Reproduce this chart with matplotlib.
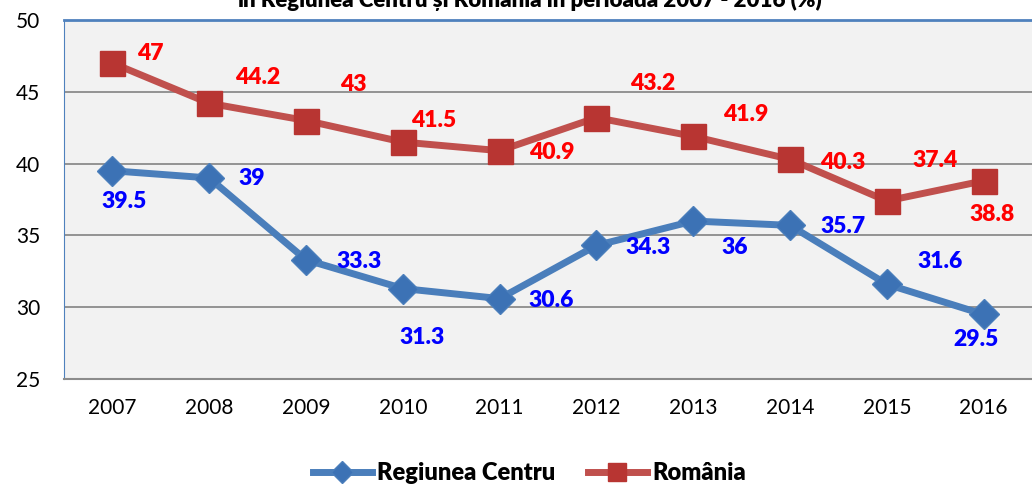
import matplotlib.pyplot as plt

# Chart data
years = ["2007", "2008", "2009", "2010", "2011", "2012", "2013", "2014", "2015", "2016"]
centru = [39.5, 39, 33.3, 31.3, 30.6, 34.3, 36, 35.7, 31.6, 29.5]
romania = [47, 44.2, 43, 41.5, 40.9, 43.2, 41.9, 40.3, 37.4, 38.8]

# label offsets in pixels (dx, dy) from each point
centru_off = [(12, -31), (43, -1), (53, -2), (19, -49), (52, -2),
              (52, -2), (42, -26), (53, -1), (53, 23), (-8, -25)]
romania_off = [(38, 10), (48, 26), (47, 36), (31, 22), (52, -2),
               (56, 34), (53, 22), (53, -3), (48, 40), (8, -34)]

plt.rcParams['font.family'] = ['Lato', 'DejaVu Sans']

fig = plt.figure(figsize=(10.32, 4.91), dpi=100)
ax = fig.add_axes([64 / 1032, 112 / 491, 968 / 1032, 359 / 491])
ax.set_facecolor('#F2F2F2')

x = list(range(len(years)))
ax.plot(x, centru, color='#4A7EBB', lw=5, marker='D', ms=15,
        mfc='#3C72B5', mec='#4A7EBB', label='Regiunea Centru', zorder=3)
ax.plot(x, romania, color='#C0504D', lw=5, marker='s', ms=18,
        mfc='#B83532', mec='#B83532', label='România', zorder=3)

for i in x:
    ax.annotate(f"{centru[i]:g}", (i, centru[i]), xytext=centru_off[i],
                textcoords='offset pixels', ha='center', va='center',
                color='#0000FF', fontsize=16.5, fontweight='heavy', zorder=4)
    ax.annotate(f"{romania[i]:g}", (i, romania[i]), xytext=romania_off[i],
                textcoords='offset pixels', ha='center', va='center',
                color='#FF0000', fontsize=16.5, fontweight='heavy', zorder=4)

ax.set_xlim(-0.5, 9.5)
ax.set_ylim(25, 50)
ax.set_yticks(range(25, 51, 5))
ax.set_xticks(x)
ax.set_xticklabels(years)
ax.tick_params(axis='both', length=0, labelsize=15)
ax.tick_params(axis='x', pad=14)
ax.tick_params(axis='y', pad=17)
ax.grid(axis='y', color='#8C8C8C', lw=1.3)
ax.set_axisbelow(True)

ax.spines['left'].set_color('#4F81BD')
ax.spines['top'].set_color('#4F81BD')
ax.spines['top'].set_linewidth(2)
ax.spines['right'].set_visible(False)
ax.spines['bottom'].set_color('#8C8C8C')
ax.spines['bottom'].set_linewidth(1.5)

# title is partly cut off at the top, as in the original
fig.text(0.513, 0.985, "în Regiunea Centru și România în perioada 2007 - 2016 (%)",
         ha='center', va='baseline', fontsize=16, fontweight='heavy')

fig.legend(loc='center', bbox_to_anchor=(0.513, 0.037), ncol=2, frameon=False,
           handlelength=2.5, columnspacing=1.35, handletextpad=0.25,
           markerscale=0.75, prop={'size': 17, 'weight': 'heavy'})

fig.savefig('out.png', dpi=100)
